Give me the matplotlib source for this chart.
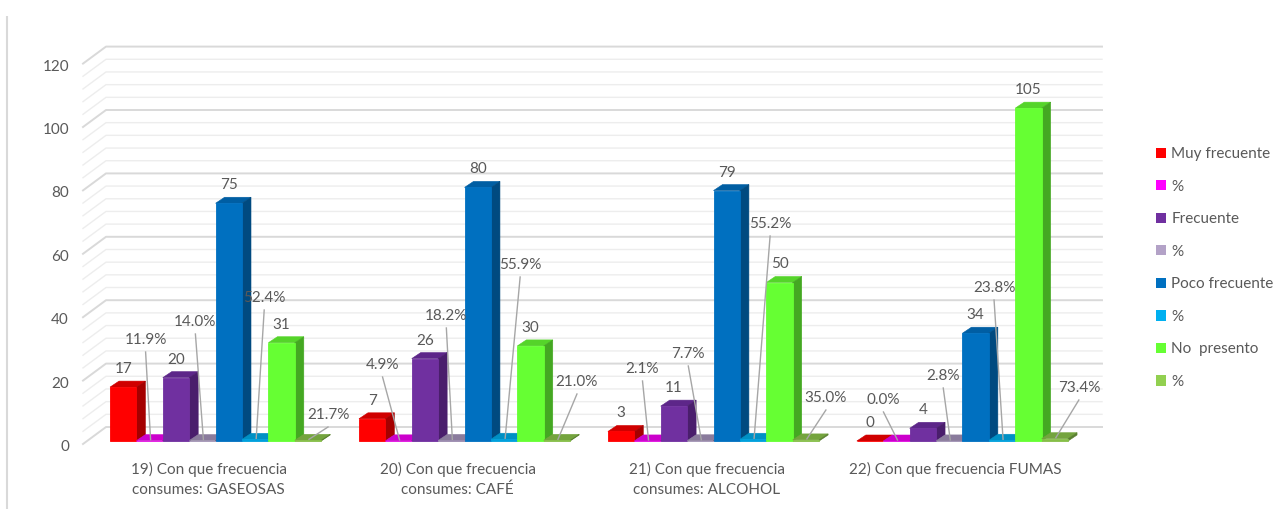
import matplotlib
matplotlib.use("Agg")
import matplotlib.pyplot as plt
from matplotlib.patches import Polygon, Patch

# ---------------- data ----------------
categories = ["19) Con que frecuencia\nconsumes: GASEOSAS",
              "20) Con que frecuencia\nconsumes: CAFÉ",
              "21) Con que frecuencia\nconsumes: ALCOHOL",
              "22) Con que frecuencia FUMAS"]
series_names = ["Muy frecuente", "%", "Frecuente", "%",
                "Poco frecuente", "%", "No  presento", "%"]
muy_frecuente = [17, 7, 3, 0]
pct_muy = [0.119, 0.049, 0.021, 0.000]
frecuente = [20, 26, 11, 4]
pct_frec = [0.140, 0.182, 0.077, 0.028]
poco_frecuente = [75, 80, 79, 34]
pct_poco = [0.524, 0.559, 0.552, 0.238]
no_presento = [31, 30, 50, 105]
pct_no = [0.217, 0.210, 0.350, 0.734]
y_ticks = [0, 20, 40, 60, 80, 100, 120]

series = [muy_frecuente, pct_muy, frecuente, pct_frec,
          poco_frecuente, pct_poco, no_presento, pct_no]
is_pct = [False, True, False, True, False, True, False, True]

# ---------------- styles ----------------
legend_colors = ["#FF0000", "#FF00FF", "#7030A0", "#B3A2C7",
                 "#0070C0", "#00B0F0", "#66FF33", "#92D050"]
front_colors = ["#FF0000", "#E000E0", "#7030A0", "#9A8AAE",
                "#0070C0", "#00A0DC", "#66FF33", "#86BE48"]
top_colors = ["#D00000", "#CC00CC", "#5D2689", "#8A7B9C",
              "#005EA3", "#0090C4", "#55D42A", "#74A43E"]
side_colors = ["#A50000", "#900090", "#4A1E6C", "#6A5C7C",
               "#004A80", "#006E96", "#44A822", "#5A8030"]
# label offsets (px) relative to the bar's front-centre at the floor
pct_offsets = [
    [(-4, -102), (-16, -77), (-5, -73), (-13, -42)],
    [(-7, -120), (-5, -126), (-12, -88), (-6, -66)],
    [(9, -144), (16, -177), (17, -218), (-8, -154)],
    [(20, -27), (20, -60), (20, -44), (24, -54)],
]

TXT = "#595959"
FONT = "Lato"
FS = 11

W, H = 1287, 509
PXX, PXY = 26.4, 3.17      # px per x-unit, px per value-unit
X0, Y0 = 110, 441          # pixel position of x=0, value=0
GROUP_PITCH = 9.43
BAR_W = 1.0

plt.rcParams['font.family'] = [FONT, 'DejaVu Sans']
fig = plt.figure(figsize=(W / 100, H / 100), dpi=100)
ax = fig.add_axes([0, 0, 1, 1])
ax.set_xlim(-X0 / PXX, (W - X0) / PXX)
ax.set_ylim(-(H - Y0) / PXY, Y0 / PXY)
ax.axis('off')


def ux(px):
    return px / PXX


def uy(px):
    return px / PXY


# left border line
ax.plot([ux(7 - X0)] * 2, [uy(Y0 - H), uy(Y0 - 16)], color="#D9D9D9", lw=1.5,
        solid_capstyle='butt', zorder=0)

# gridlines (3D wall)
xs_grid = [ux(83 - X0), ux(106 - X0), ux(1102 - X0)]
for v in range(0, 121, 4):
    yf = v - uy(3)
    yb = yf + uy(17)
    major = (v % 20 == 0)
    ax.plot(xs_grid, [yf, yb, yb], color="#D9D9D9" if major else "#EDEDED",
            lw=1.4 if major else 1.0, zorder=1)

for v in y_ticks:
    ax.text(ux(69 - X0), v - uy(6), str(v), ha='right', va='center',
            color=TXT, fontsize=FS)

# bars
ddx, ddy = ux(9), uy(6)
n_series = len(series)
for j, vals in enumerate(series):
    lefts = [g * GROUP_PITCH + j * BAR_W for g in range(len(vals))]
    bars = ax.bar(lefts, vals, width=BAR_W, align='edge',
                  color=front_colors[j], edgecolor=front_colors[j], lw=0.6)
    for g, (l, v, b) in enumerate(zip(lefts, vals, bars)):
        z = 2 + (g * n_series + j) * 0.01
        b.set_zorder(z + 0.005)
        top = Polygon([(l, v), (l + BAR_W, v), (l + BAR_W + ddx, v + ddy),
                       (l + ddx, v + ddy)], closed=True,
                      facecolor=top_colors[j], edgecolor=top_colors[j],
                      lw=0.4, zorder=z)
        side = Polygon([(l + BAR_W, 0), (l + BAR_W + ddx, ddy),
                        (l + BAR_W + ddx, v + ddy), (l + BAR_W, v)],
                       closed=True, facecolor=side_colors[j],
                       edgecolor=side_colors[j], lw=0.4, zorder=z)
        ax.add_patch(top)
        ax.add_patch(side)
        cx = l + BAR_W / 2
        if not is_pct[j]:
            ax.text(cx, v + uy(18), f"{v:g}", ha='center', va='center',
                    color=TXT, fontsize=FS, zorder=10)
        else:
            ox, oy = pct_offsets[j // 2][g]
            tx, ty = cx + ux(ox), uy(-oy - 1)
            ax.text(tx, ty, f"{v * 100:.1f}%", ha='center', va='center',
                    color=TXT, fontsize=FS, zorder=10)
            ax.plot([tx, cx + ux(1)], [ty - uy(12), v + uy(1)],
                    color="#A6A6A6", lw=1.0, zorder=9)

# category labels
for g, cat in enumerate(categories):
    cx = g * GROUP_PITCH + n_series * BAR_W / 2 - ux(7)
    for k, line in enumerate(cat.split("\n")):
        ax.text(cx, -uy(469 - Y0 + 21 * k), line, ha='center', va='center',
                color=TXT, fontsize=FS)

# legend
handles = [Patch(facecolor=c, edgecolor='none', label=n)
           for c, n in zip(legend_colors, series_names)]
leg = ax.legend(handles=handles, loc='upper left',
                bbox_to_anchor=(1156 / W, 1 - 147 / H), frameon=False,
                fontsize=FS, handlelength=0.65, handleheight=0.65,
                handletextpad=0.35, labelspacing=1.215, borderpad=0,
                borderaxespad=0)
for t in leg.get_texts():
    t.set_color(TXT)

fig.savefig("out.png", dpi=100)
